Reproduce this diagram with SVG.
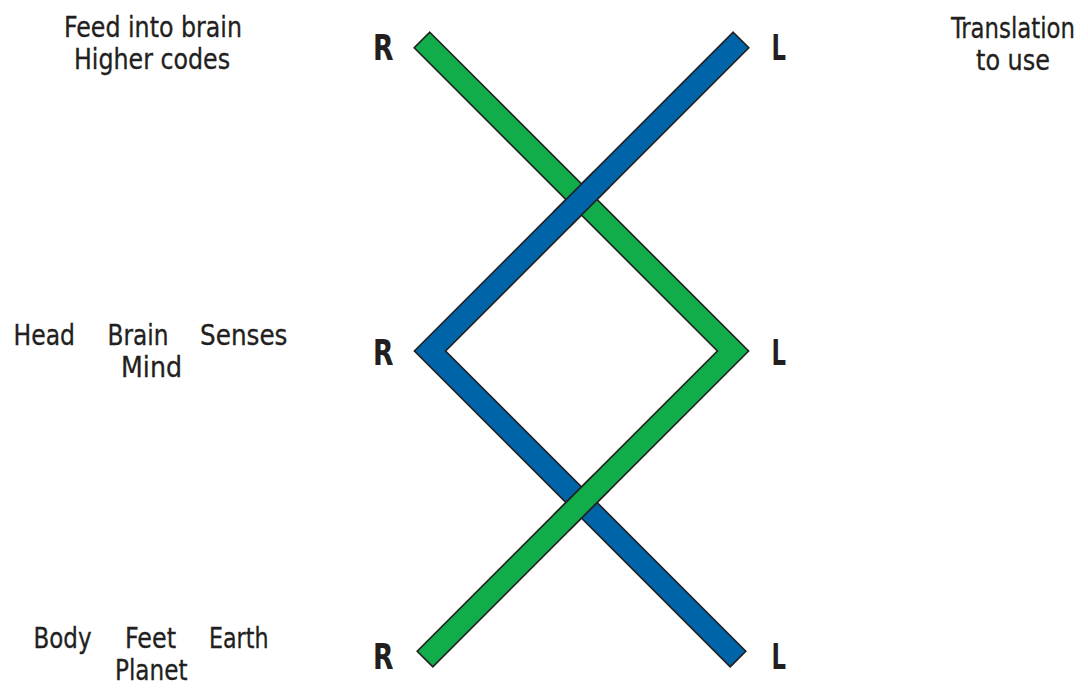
<svg xmlns="http://www.w3.org/2000/svg" width="1088" height="697" viewBox="0 0 1088 697">
<style>
.t{font-family:"Liberation Sans Narrow","DejaVu Sans Condensed","Liberation Sans",sans-serif;font-size:29px;fill:#231f20;stroke:#231f20;stroke-width:0.3}
.rl{font-family:"Liberation Sans Narrow","DejaVu Sans Condensed","Liberation Sans",sans-serif;font-size:36px;font-weight:bold;fill:#231f20}
.blue{fill:#0064a8}
.green{fill:#10ad4a}
.ol{stroke:#231f20;stroke-width:1.6;stroke-linejoin:miter}
.edge{stroke:#231f20;stroke-width:1.6;fill:none}
</style>
<rect width="1088" height="697" fill="#ffffff"/>
<g id="connectors">
<polygon id="blue-chevron" class="blue ol" points="733.2,32.2 748.8,47.8 445.6,351 745.8,651.2 730.2,666.8 414.4,351"/>
<polygon id="green-chevron" class="green ol" points="429.8,32.2 748.6,351 432.8,666.8 417.2,651.2 717.4,351 414.2,47.8"/>
<polygon class="blue" points="553.72,211.72 593.72,171.72 609.28,187.28 569.28,227.28"/>
<line class="edge" x1="553.72" y1="211.72" x2="593.72" y2="171.72"/>
<line class="edge" x1="569.28" y1="227.28" x2="609.28" y2="187.28"/>
<polygon class="green" points="553.72,514.72 593.72,474.72 609.28,490.28 569.28,530.28"/>
<line class="edge" x1="553.72" y1="514.72" x2="593.72" y2="474.72"/>
<line class="edge" x1="569.28" y1="530.28" x2="609.28" y2="490.28"/>
</g>
<g id="label-top-left"><text class="t" x="64" y="37" textLength="178" lengthAdjust="spacingAndGlyphs">Feed into brain</text><text class="t" x="74" y="69" textLength="156" lengthAdjust="spacingAndGlyphs">Higher codes</text></g>
<g id="label-top-right"><text class="t" x="951" y="38" textLength="124" lengthAdjust="spacingAndGlyphs">Translation</text><text class="t" x="976" y="70" textLength="74" lengthAdjust="spacingAndGlyphs">to use</text></g>
<g id="label-mid-left"><text class="t" x="13.5" y="345" textLength="61.5" lengthAdjust="spacingAndGlyphs">Head</text><text class="t" x="107.5" y="345" textLength="61" lengthAdjust="spacingAndGlyphs">Brain</text><text class="t" x="200" y="345" textLength="87.5" lengthAdjust="spacingAndGlyphs">Senses</text><text class="t" x="121" y="377" textLength="61" lengthAdjust="spacingAndGlyphs">Mind</text></g>
<g id="label-bottom-left"><text class="t" x="33.5" y="648" textLength="58" lengthAdjust="spacingAndGlyphs">Body</text><text class="t" x="125" y="648" textLength="51" lengthAdjust="spacingAndGlyphs">Feet</text><text class="t" x="209" y="648" textLength="59.5" lengthAdjust="spacingAndGlyphs">Earth</text><text class="t" x="115" y="680" textLength="72.5" lengthAdjust="spacingAndGlyphs">Planet</text></g>
<g id="R-top"><text class="rl" x="373" y="60" textLength="20.5" lengthAdjust="spacingAndGlyphs">R</text></g>
<g id="L-top"><text class="rl" x="771.5" y="60" textLength="14.5" lengthAdjust="spacingAndGlyphs">L</text></g>
<g id="R-mid"><text class="rl" x="373" y="365" textLength="20.5" lengthAdjust="spacingAndGlyphs">R</text></g>
<g id="L-mid"><text class="rl" x="771.5" y="365" textLength="14.5" lengthAdjust="spacingAndGlyphs">L</text></g>
<g id="R-bottom"><text class="rl" x="373" y="669" textLength="20.5" lengthAdjust="spacingAndGlyphs">R</text></g>
<g id="L-bottom"><text class="rl" x="771.5" y="669" textLength="14.5" lengthAdjust="spacingAndGlyphs">L</text></g>
</svg>
